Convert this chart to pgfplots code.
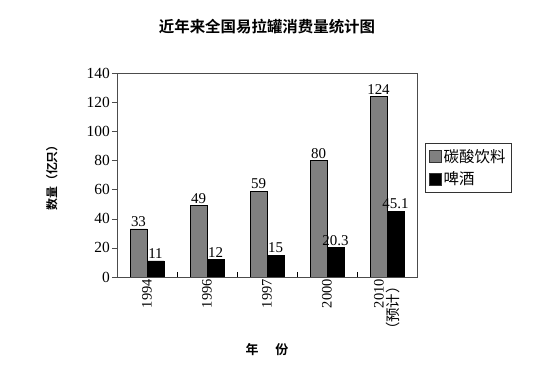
\documentclass[border=0pt]{standalone}
\usepackage{pgfplots}
\pgfplotsset{compat=1.18}
\usepackage{fontspec}
\setmainfont{Liberation Serif}
\newfontfamily\cjk{Noto Sans CJK SC}
\newfontfamily\cjkb{Noto Sans CJK SC Bold}
\definecolor{bargray}{RGB}{128,128,128}
\begin{document}
\begin{tikzpicture}
\path (0,0) rectangle (553bp,368bp);
\begin{axis}[
  at={(117bp,91bp)}, anchor=south west,
  scale only axis, width=300bp, height=204bp,
  xmin=-0.5, xmax=4.5, ymin=0, ymax=140,
  ybar=0pt, bar width=17bp,
  axis on top,
  axis line style={black!70},
  xtick={0,1,2,3,4},
  xticklabels={1994,1996,1997,2000,{2010\\{\cjk （预计）}}},
  minor xtick={0.5,1.5,2.5,3.5},
  xtick pos=bottom,
  major x tick style={draw=none},
  minor x tick style={draw=black, line width=0.8pt},
  minor tick length=5bp,
  xticklabel style={rotate=90, anchor=east, align=right, font=\fontsize{14.5}{15}\selectfont, inner sep=2bp},
  ytick={0,20,...,140},
  ytick pos=left,
  ytick style={black!70, xshift=-5bp},
  major tick length=5bp,
  tick align=inside,
  yticklabel style={font=\fontsize{15.5}{16}\selectfont, inner sep=2bp, xshift=-5bp},
  /pgf/number format/assume math mode=true,
  nodes near coords,
  every node near coord/.append style={font=\fontsize{15}{16}\selectfont, text=black, inner sep=2bp},
  ylabel={\cjkb 数量（亿只）},
  ylabel style={font=\fontsize{12}{13}\selectfont, at={(rel axis cs:0,0.5)}, anchor=south, yshift=56bp},
  xlabel={\cjkb 年\hspace{1.3em}份},
  xlabel style={font=\fontsize{13}{14}\selectfont, at={(rel axis cs:0.5,0)}, anchor=north, yshift=-63bp},
  title={\cjkb 近年来全国易拉罐消费量统计图},
  title style={font=\fontsize{15.5}{16}\selectfont, at={(rel axis cs:0.5,1)}, anchor=south, yshift=30bp},
  legend style={at={(rel axis cs:1.027,0.657)}, anchor=north west, draw=black!80, font=\cjk\fontsize{15.5}{17}\selectfont, row sep=4bp, inner xsep=4bp, inner ysep=4bp, cells={anchor=west}},
  legend image code/.code={\draw[#1, draw=black!80] (0bp,-6bp) rectangle (12bp,6bp);},
]
\addplot[fill=bargray, draw=black] coordinates {(0,33) (1,49) (2,59) (3,80) (4,124)};
\addplot[fill=black, draw=black] coordinates {(0,11) (1,12) (2,15) (3,20.3) (4,45.1)};
\legend{碳酸饮料,啤酒}
\end{axis}
\end{tikzpicture}
\end{document}
